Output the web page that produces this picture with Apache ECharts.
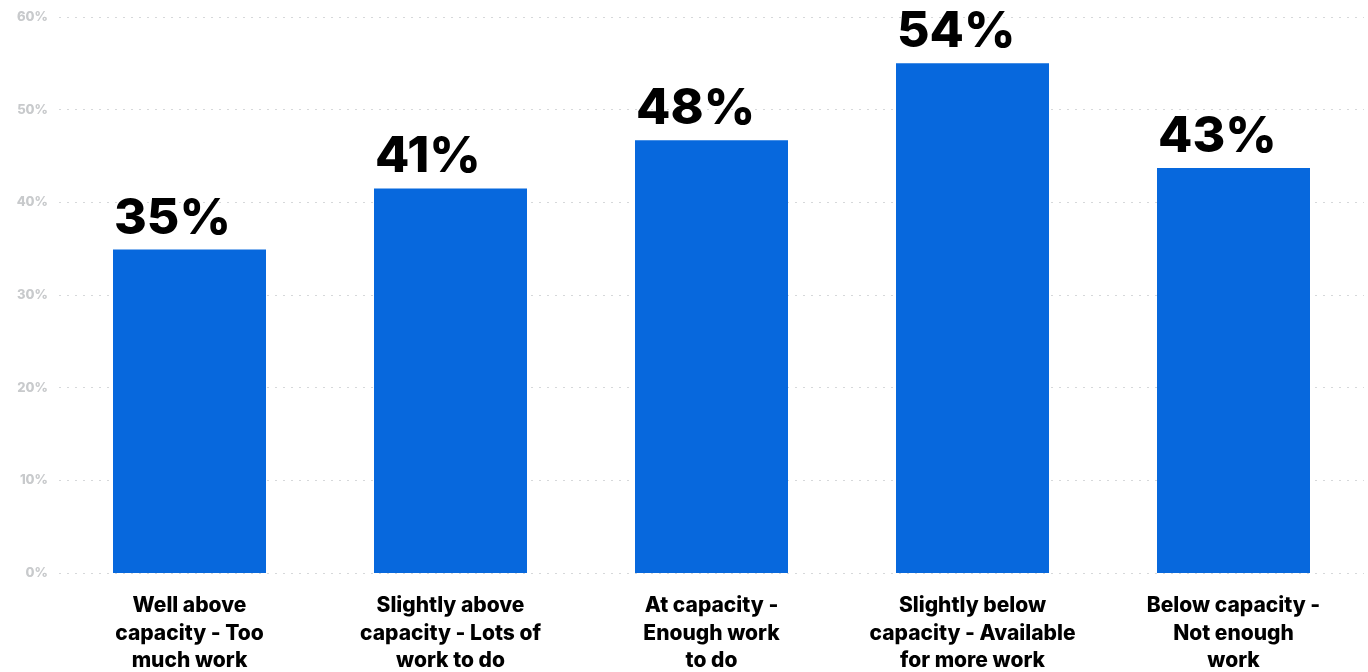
<!DOCTYPE html>
<html>
<head>
<meta charset="utf-8">
<script src="https://cdn.jsdelivr.net/npm/echarts@6/dist/echarts.min.js"></script>
<style>
  html, body { margin: 0; padding: 0; background: #fff; }
  #main { width: 1368px; height: 672px; }
</style>
</head>
<body>
<div id="main"></div>
<script>
const categories = [
  'Well above\ncapacity - Too\nmuch work',
  'Slightly above\ncapacity - Lots of\nwork to do',
  'At capacity -\nEnough work\nto do',
  'Slightly below\ncapacity - Available\nfor more work',
  'Below capacity -\nNot enough\nwork'
]
// bar heights as drawn in the picture
const values = [34.9, 41.5, 46.7, 55, 43.7]
// the printed labels
const valueLabels = ['35%', '41%', '48%', '54%', '43%']

const chart = echarts.init(document.getElementById('main'))

const option = {
  animation: false,
  grid: { left: 59, right: 4, top: 17, bottom: 99, outerBoundsMode: 'none', containLabel: false },
  xAxis: {
    type: 'category',
    data: categories,
    axisLine: { show: false },
    axisTick: { show: false },
    axisLabel: {
      interval: 0,
      margin: 19,
      color: '#000',
      fontFamily: 'Inter',
      fontWeight: 800,
      fontSize: 21,
      lineHeight: 27.5,
      align: 'center'
    }
  },
  yAxis: {
    type: 'value',
    min: 0,
    max: 60,
    interval: 10,
    axisLabel: {
      formatter: '{value}%',
      color: '#c8cacc',
      fontFamily: 'Inter',
      fontWeight: 800,
      fontSize: 13,
      margin: 11
    },
    splitLine: {
      lineStyle: { color: '#d6d8da', type: [2, 6], width: 1 }
    }
  },
  series: [
    {
      type: 'bar',
      data: values,
      barWidth: 153,
      itemStyle: { color: '#0768dd' },
      label: {
        show: true,
        position: [1, -6],
        align: 'left',
        verticalAlign: 'bottom',
        color: '#000',
        fontFamily: 'Inter',
        fontWeight: 800,
        fontSize: 50,
        formatter: (p) => valueLabels[p.dataIndex]
      }
    }
  ]
}

chart.setOption(option)
</script>
</body>
</html>
